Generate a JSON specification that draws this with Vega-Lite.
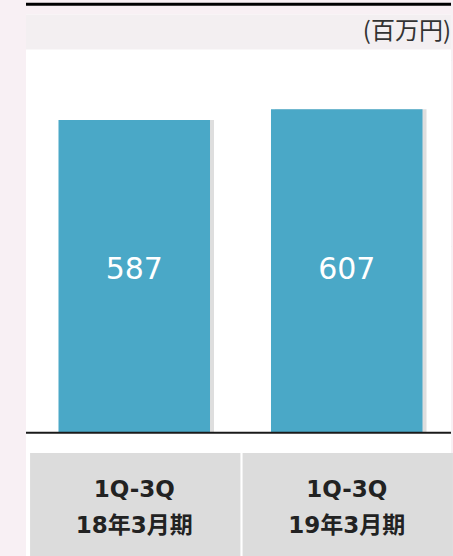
{
  "$schema": "https://vega.github.io/schema/vega-lite/v6.json",
  "autosize": {"type": "fit", "contains": "padding"},
  "width": 453,
  "height": 556,
  "padding": {"left": 24, "top": 0, "right": 0, "bottom": 0},
  "background": "#f8f0f4",
  "config": {"view": {"stroke": null, "fill": null}},
  "data": {
    "values": [
      {"period": "1Q-3Q\n18年3月期", "value": 587},
      {"period": "1Q-3Q\n19年3月期", "value": 607}
    ]
  },
  "encoding": {
    "x": {
      "field": "period",
      "type": "nominal",
      "sort": null,
      "scale": {"paddingInner": 0, "paddingOuter": 0},
      "axis": null
    }
  },
  "layer": [
    {
      "data": {"values": [{}]},
      "mark": {"type": "rect", "color": "#ffffff"},
      "encoding": {
        "x": null,
        "y": {"datum": 785, "type": "quantitative", "scale": {"domain": [-231, 812], "nice": false, "zero": false}, "axis": {"values": [350, 700], "labels": false, "ticks": false, "domain": false, "grid": true, "gridColor": "#ececec", "title": null}},
        "y2": {"datum": -231}
      }
    },
    {
      "data": {"values": [{}]},
      "mark": {"type": "rect", "color": "#f3eff1"},
      "encoding": {
        "x": null,
        "y": {"datum": 785, "type": "quantitative"},
        "y2": {"datum": 719}
      }
    },
    {
      "data": {"values": [{}]},
      "mark": {"type": "rule", "color": "#000000", "strokeWidth": 3},
      "encoding": {
        "x": null,
        "y": {"datum": 804, "type": "quantitative"}
      }
    },
    {
      "data": {"values": [{}]},
      "mark": {"type": "text", "text": "(百万円)", "align": "right", "baseline": "middle", "fontSize": 24, "font": "Noto Sans CJK JP", "color": "#333333", "dx": 0},
      "encoding": {
        "x": {"value": "width"},
        "y": {"datum": 752, "type": "quantitative"}
      }
    },
    {
      "mark": {"type": "bar", "color": "#7a7a7a", "opacity": 0.25, "width": {"band": 0.713}, "xOffset": 6},
      "encoding": {
        "y": {"field": "value", "type": "quantitative"}
      }
    },
    {
      "mark": {"type": "bar", "color": "#4aa8c7", "width": {"band": 0.713}, "xOffset": 2},
      "encoding": {
        "y": {"field": "value", "type": "quantitative"}
      }
    },
    {
      "data": {"values": [{}]},
      "mark": {"type": "rule", "color": "#1a1a1a", "strokeWidth": 2},
      "encoding": {
        "x": null,
        "y": {"datum": 0, "type": "quantitative"}
      }
    },
    {
      "mark": {"type": "text", "color": "#ffffff", "fontSize": 30, "font": "DejaVu Sans", "baseline": "middle", "dx": 2},
      "encoding": {
        "y": {"datum": 305, "type": "quantitative"},
        "text": {"field": "value", "type": "quantitative"}
      }
    },
    {
      "mark": {"type": "bar", "color": "#dcdcdc", "width": {"band": 0.99}, "xOffset": 3},
      "encoding": {
        "y": {"datum": -38, "type": "quantitative"},
        "y2": {"datum": -231}
      }
    },
    {
      "mark": {"type": "text", "color": "#222222", "fontSize": 23, "fontWeight": "bold", "font": "DejaVu Sans, Noto Sans CJK JP", "baseline": "middle", "lineBreak": "\n", "lineHeight": 36, "dx": 2},
      "encoding": {
        "y": {"datum": -107, "type": "quantitative"},
        "text": {"field": "period", "type": "nominal"}
      }
    }
  ]
}
